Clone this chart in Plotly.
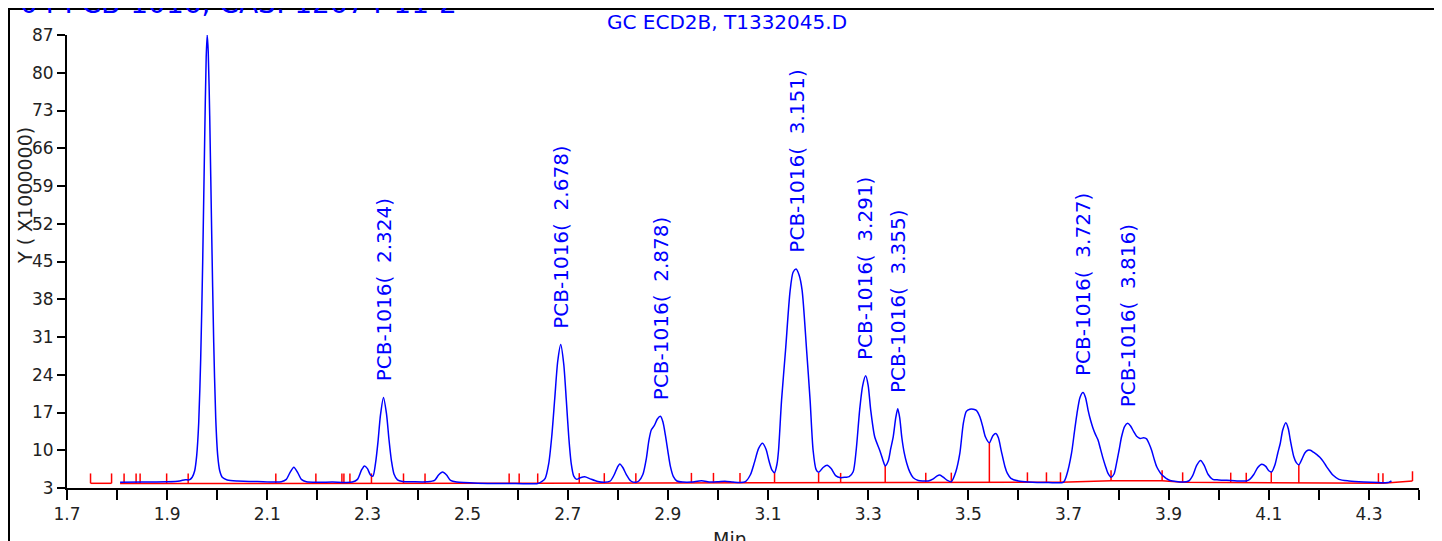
import plotly.graph_objects as go

# ---------------- data ----------------
rt = [1.806, 1.850, 1.900, 1.925, 1.936, 1.944, 1.950, 1.955, 1.959, 1.963, 1.967, 1.971, 1.975, 1.978,
      1.980, 1.982, 1.985, 1.989, 1.993, 1.997, 2.001, 2.005, 2.010, 2.020, 2.040, 2.080,
      2.128, 2.138, 2.145, 2.153, 2.161, 2.168, 2.178, 2.230, 2.270, 2.280, 2.288, 2.294, 2.300,
      2.306, 2.311, 2.316, 2.321, 2.326, 2.332, 2.338, 2.343, 2.348, 2.353, 2.360, 2.370, 2.390,
      2.420, 2.434, 2.442, 2.450, 2.458, 2.466, 2.478, 2.520, 2.580, 2.640, 2.648, 2.655, 2.662,
      2.668, 2.674, 2.680, 2.686, 2.692, 2.697, 2.702, 2.707, 2.712, 2.718, 2.725, 2.734, 2.745,
      2.760, 2.773, 2.785, 2.793, 2.799, 2.804, 2.810, 2.817, 2.826, 2.836, 2.842, 2.850, 2.857,
      2.862, 2.867, 2.873, 2.879, 2.885, 2.890, 2.895, 2.900, 2.905, 2.911, 2.918, 2.930, 2.947,
      2.967, 2.985, 3.000, 3.014, 3.030, 3.044, 3.055, 3.065, 3.073, 3.081, 3.089, 3.096, 3.102,
      3.108, 3.113, 3.118, 3.121, 3.127, 3.135, 3.144, 3.150, 3.156, 3.162, 3.168, 3.177, 3.184,
      3.190, 3.196, 3.201, 3.210, 3.218, 3.226, 3.235, 3.245, 3.255, 3.262, 3.270, 3.276, 3.283,
      3.289, 3.295, 3.300, 3.305, 3.313, 3.323, 3.329, 3.334, 3.340, 3.345, 3.350, 3.355, 3.359,
      3.363, 3.367, 3.372, 3.377, 3.383, 3.390, 3.400, 3.409, 3.420, 3.430, 3.437, 3.443, 3.450,
      3.458, 3.466, 3.475, 3.483, 3.490, 3.496, 3.503, 3.510, 3.516, 3.523, 3.529, 3.534, 3.542,
      3.549, 3.555, 3.560, 3.566, 3.573, 3.578, 3.585, 3.600, 3.620, 3.660, 3.690, 3.697, 3.706,
      3.712, 3.717, 3.723, 3.729, 3.734, 3.739, 3.744, 3.749, 3.754, 3.759, 3.764, 3.769, 3.774,
      3.779, 3.785, 3.791, 3.796, 3.801, 3.806, 3.812, 3.818, 3.824, 3.830, 3.836, 3.843, 3.850,
      3.856, 3.861, 3.866, 3.871, 3.876, 3.882, 3.887, 3.895, 3.903, 3.928, 3.940, 3.948, 3.956,
      3.964, 3.971, 3.979, 3.988, 4.000, 4.024, 4.045, 4.055, 4.062, 4.070, 4.078, 4.086, 4.094,
      4.100, 4.106, 4.112, 4.118, 4.123, 4.128, 4.134, 4.139, 4.143, 4.150, 4.155, 4.160, 4.166,
      4.172, 4.178, 4.183, 4.190, 4.196, 4.202, 4.209, 4.215, 4.222, 4.228, 4.240, 4.260, 4.290,
      4.320, 4.338, 4.342, 4.345]
signal = [4.05, 4.10, 4.15, 4.30, 4.55, 4.50, 5.0, 6.2, 9.0, 15.0, 27.0, 45.0, 68.0, 83.0,
          87.0, 84.0, 72.0, 50.0, 30.0, 16.0, 9.0, 6.2, 5.0, 4.5, 4.3, 4.2,
          4.15, 4.6, 5.8, 6.85, 5.8, 4.6, 4.15, 4.1, 4.1, 4.6, 6.3, 7.1, 6.6,
          5.4, 5.2, 7.5, 11.5, 16.5, 19.8, 16.8, 12.0, 8.0, 5.6, 4.5, 4.2, 4.15,
          4.15, 4.4, 5.4, 5.95, 5.4, 4.4, 4.1, 3.9, 3.85, 3.85, 4.2, 4.8, 7.5,
          12.5, 19.5, 26.5, 29.6, 26.0, 19.5, 12.5, 7.5, 5.2, 4.6, 4.9, 5.1, 4.7,
          4.2, 4.05, 4.3, 5.5, 6.8, 7.45, 6.8, 5.5, 4.3, 4.05, 4.3, 5.5, 8.5,
          11.8, 13.8, 14.6, 15.8, 16.3, 15.3, 12.8, 9.8, 7.0, 5.1, 4.3, 4.1, 4.1,
          4.35, 4.1, 4.15, 4.25, 4.1, 4.0, 4.2, 5.5, 7.8, 10.3, 11.3, 10.2, 8.0,
          6.3, 5.85, 7.5, 10.0, 19.3, 28.6, 39.5, 43.0, 43.6, 42.5, 39.7, 28.6, 19.3,
          10.0, 6.4, 5.9, 6.8, 7.2, 6.6, 5.3, 4.9, 5.0, 5.1, 6.0, 10.0, 17.5,
          22.0, 23.8, 22.0, 17.5, 12.5, 10.0, 8.3, 7.1, 8.0, 10.3, 12.5, 16.0, 17.7,
          16.0, 12.5, 9.5, 7.6, 6.0, 4.9, 4.4, 4.3, 4.3, 4.7, 5.2, 5.4, 5.0,
          4.4, 4.15, 6.0, 9.4, 15.0, 17.2, 17.6, 17.6, 17.4, 16.2, 14.3, 12.5, 11.4,
          12.7, 13.1, 12.3, 9.8, 7.0, 5.7, 4.8, 4.3, 4.1, 4.0, 4.1, 5.6, 9.4,
          13.5, 16.8, 19.8, 20.7, 19.8, 17.5, 15.6, 14.1, 12.9, 11.9, 10.2, 8.5, 7.0,
          5.7, 5.0, 5.6, 7.6, 10.0, 12.5, 14.4, 15.0, 14.5, 13.5, 12.6, 12.2, 12.3,
          12.1, 11.2, 10.0, 8.4, 7.0, 6.0, 5.4, 4.8, 4.4, 4.1, 4.3, 5.3, 7.2,
          8.1, 7.2, 5.5, 4.6, 4.5, 4.4, 4.3, 4.3, 4.6, 5.5, 6.8, 7.4, 7.0,
          6.2, 6.0, 7.2, 9.5, 11.3, 13.8, 15.1, 14.0, 11.9, 8.8, 7.7, 7.3, 8.3,
          9.5, 10.0, 10.0, 9.6, 9.2, 8.7, 7.9, 7.0, 6.1, 5.4, 4.6, 4.3, 4.1,
          4.0, 4.0, 4.15, 4.3]

base_rt = [1.806, 2.640, 3.620, 3.684, 3.785, 3.887, 3.928, 4.328, 4.387]
base_y = [3.85, 3.87, 4.05, 4.05, 4.35, 4.35, 4.05, 3.9, 4.3]
bracket_rt = [1.747, 1.789]
bracket_y = [3.87, 3.87]

event_rt = [1.747, 1.789, 1.814, 1.838, 1.846, 1.899, 1.942, 2.117, 2.197, 2.249, 2.253, 2.265,
            2.308, 2.372, 2.415, 2.583, 2.603, 2.640, 2.723, 2.773, 2.836, 2.947, 2.991, 3.044,
            3.113, 3.201, 3.245, 3.334, 3.415, 3.466, 3.542, 3.618, 3.656, 3.684, 3.785, 3.887,
            3.928, 4.024, 4.055, 4.105, 4.160, 4.319, 4.328, 4.387]
event_base = [3.87, 3.87, 3.85, 3.85, 3.85, 3.85, 3.85, 3.85, 3.85, 3.85, 3.85, 3.85,
              3.85, 3.85, 3.85, 3.87, 3.87, 3.87, 3.9, 3.9, 3.9, 3.92, 3.92, 3.93,
              3.95, 3.95, 3.97, 3.97, 4.0, 4.0, 4.0, 4.05, 4.05, 4.05, 4.35, 4.35,
              4.05, 4.0, 4.0, 3.97, 3.95, 3.9, 3.9, 4.3]
event_top = [5.7, 5.7, 5.7, 5.7, 5.7, 5.7, 5.7, 5.7, 5.7, 5.7, 5.7, 5.7,
             5.7, 5.7, 5.7, 5.7, 5.7, 5.7, 5.75, 5.75, 5.75, 5.8, 5.8, 5.8,
             5.85, 5.8, 5.8, 7.1, 5.85, 5.85, 11.4, 5.9, 5.9, 5.9, 6.3, 6.3,
             5.9, 5.85, 5.85, 6.0, 7.3, 5.75, 5.75, 6.1]

label_text = ["PCB-1016(  2.324)", "PCB-1016(  2.678)", "PCB-1016(  2.878)", "PCB-1016(  3.151)",
              "PCB-1016(  3.291)", "PCB-1016(  3.355)", "PCB-1016(  3.727)", "PCB-1016(  3.816)"]
label_rt = [2.332, 2.686, 2.885, 3.156, 3.295, 3.359, 3.729, 3.818]
label_y = [19.8, 29.6, 16.3, 43.6, 23.8, 17.7, 20.7, 15.0]

x_ticks = [1.7, 1.8, 1.9, 2.0, 2.1, 2.2, 2.3, 2.4, 2.5, 2.6, 2.7, 2.8, 2.9, 3.0,
           3.1, 3.2, 3.3, 3.4, 3.5, 3.6, 3.7, 3.8, 3.9, 4.0, 4.1, 4.2, 4.3, 4.4]
x_tick_text = ["1.7", "", "1.9", "", "2.1", "", "2.3", "", "2.5", "", "2.7", "", "2.9", "",
               "3.1", "", "3.3", "", "3.5", "", "3.7", "", "3.9", "", "4.1", "", "4.3", ""]
y_ticks = [3, 10, 17, 24, 31, 38, 45, 52, 59, 66, 73, 80, 87]

FONT = "DejaVu Sans"
BLUE = "#0000ff"
RED = "#ff0000"

# ---------------- figure ----------------
fig = go.Figure()

fig.add_trace(go.Scatter(x=base_rt, y=base_y, mode="lines",
                         line=dict(color=RED, width=1.5), hoverinfo="skip"))
fig.add_trace(go.Scatter(x=bracket_rt, y=bracket_y, mode="lines",
                         line=dict(color=RED, width=1.5), hoverinfo="skip"))

ev_x, ev_y = [], []
for t, b, top in zip(event_rt, event_base, event_top):
    ev_x += [t, t, None]
    ev_y += [b, top, None]
fig.add_trace(go.Scatter(x=ev_x, y=ev_y, mode="lines",
                         line=dict(color=RED, width=1.5), hoverinfo="skip"))

fig.add_trace(go.Scatter(x=rt, y=signal, mode="lines",
                         line=dict(color=BLUE, width=1.5, shape="spline", smoothing=0.7)))

for txt, xr, yr in zip(label_text, label_rt, label_y):
    fig.add_annotation(x=xr, y=yr, xref="x", yref="y", text=txt, showarrow=False,
                       textangle=-90, yanchor="bottom", xanchor="center", yshift=14,
                       font=dict(family=FONT, size=20, color=BLUE))

# page has an 8px body margin: screen px = 8 + figure px
PW, PH = 1352.0, 453.0
def px_x(px):
    return (px - 67) / PW
def px_y(py):
    return (488 - py) / PH

# outer frame
fig.add_shape(type="rect", xref="paper", yref="paper",
              x0=px_x(9), x1=px_x(1470), y0=px_y(620), y1=px_y(9),
              line=dict(color="black", width=2), fillcolor="rgba(0,0,0,0)", layer="below")

# clipped header title
fig.add_annotation(xref="paper", yref="paper", x=px_x(18), y=px_y(22), xanchor="left",
                   yanchor="bottom", text="04 PCB-1016, CAS: 12674-11-2", showarrow=False,
                   font=dict(family=FONT, size=28, color=BLUE))
# subtitle
fig.add_annotation(xref="paper", yref="paper", x=px_x(727), y=px_y(22), xanchor="center",
                   yanchor="middle", text="GC ECD2B, T1332045.D", showarrow=False,
                   font=dict(family=FONT, size=20, color=BLUE))
# y axis title
fig.add_annotation(xref="paper", yref="paper", x=px_x(25), y=px_y(196), xanchor="center",
                   yanchor="middle", text="Y ( X1000000)", showarrow=False, textangle=-90,
                   font=dict(family=FONT, size=19, color="#222222"))
# x axis title
fig.add_annotation(xref="paper", yref="paper", x=px_x(730), y=px_y(526), xanchor="center",
                   yanchor="top", text="Min", showarrow=False,
                   font=dict(family=FONT, size=19, color="#222222"))

fig.update_layout(
    width=1442, height=541,
    margin=dict(l=59, r=31, t=27, b=61),
    paper_bgcolor="white", plot_bgcolor="white",
    showlegend=False,
    font=dict(family=FONT, color="#222222"),
    xaxis=dict(range=[1.7, 4.4], tickmode="array", tickvals=x_ticks, ticktext=x_tick_text,
               showgrid=False, zeroline=False, showline=True, linecolor="black", linewidth=2,
               ticks="outside", ticklen=10, tickwidth=2, tickcolor="black",
               tickfont=dict(family=FONT, size=17, color="#222222")),
    yaxis=dict(range=[3, 87], tickmode="array", tickvals=y_ticks,
               showgrid=False, zeroline=False, showline=True, linecolor="black", linewidth=2,
               ticks="outside", ticklen=8, tickwidth=2, tickcolor="black",
               tickfont=dict(family=FONT, size=17, color="#222222")),
)

fig.write_html("out.html")
